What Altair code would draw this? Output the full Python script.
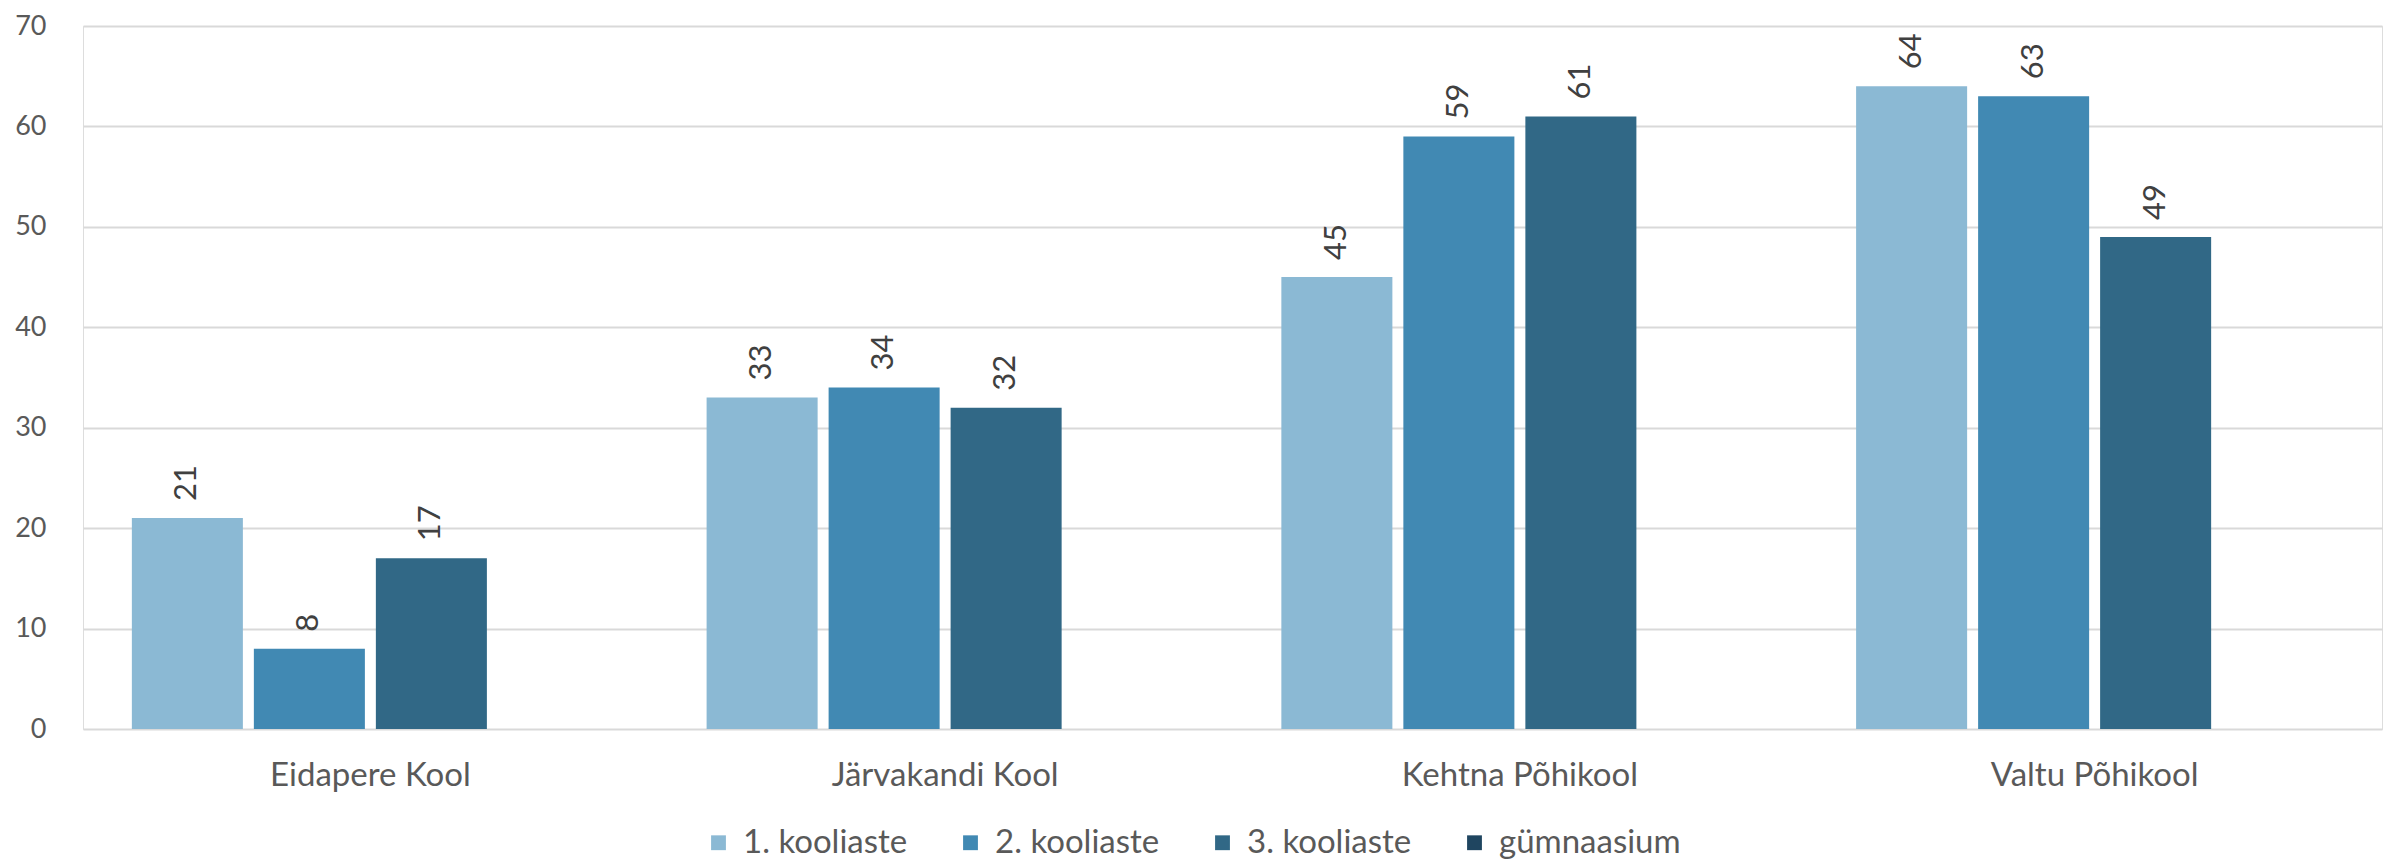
import altair as alt
import pandas as pd

schools = ["Eidapere Kool", "Järvakandi Kool", "Kehtna Põhikool", "Valtu Põhikool"]
series = ["1. kooliaste", "2. kooliaste", "3. kooliaste", "gümnaasium"]
s1 = [21, 33, 45, 64]
s2 = [8, 34, 59, 63]
s3 = [17, 32, 61, 49]
colors = ["#8BB9D4", "#4189B3", "#316886", "#1F4560"]
y_ticks = [0, 10, 20, 30, 40, 50, 60, 70]

rows = []
for vals, name in [(s1, series[0]), (s2, series[1]), (s3, series[2])]:
    for sc, v in zip(schools, vals):
        rows.append({"kool": sc, "aste": name, "v": v})
df = pd.DataFrame(rows)

FONT = "Lato"

x = alt.X("kool:N", sort=schools, title=None,
          scale=alt.Scale(paddingInner=0.17, paddingOuter=0.085),
          axis=alt.Axis(labelAngle=0, domain=False, ticks=False, labelFontSize=33,
                        labelLimit=0, labelColor="#595959", labelFont=FONT, labelPadding=30))
xo = alt.XOffset("aste:N", scale=alt.Scale(domain=series, paddingInner=0.09, paddingOuter=0))
y = alt.Y("v:Q", title=None,
          scale=alt.Scale(domain=[0, 70], nice=False),
          axis=alt.Axis(values=y_ticks, domain=False, ticks=False, labelFontSize=27,
                        labelColor="#595959", labelFont=FONT, labelPadding=37,
                        gridColor="#D9D9D9", gridWidth=2))

bars = alt.Chart(df).mark_bar().encode(
    x=x, xOffset=xo, y=y,
    color=alt.Color("aste:N", scale=alt.Scale(domain=series, range=colors),
                    legend=alt.Legend(title=None, orient="none", direction="horizontal",
                                      legendX=619, legendY=800,
                                      symbolType="square", symbolSize=220,
                                      symbolStrokeWidth=0, symbolOpacity=1,
                                      labelFontSize=33, labelFont=FONT, labelColor="#595959",
                                      labelLimit=0, columnPadding=46, labelOffset=8)),
)

labels = alt.Chart(df).mark_text(angle=270, align="left", baseline="middle", dx=17,
                                 fontSize=31, font=FONT, color="#404040").encode(
    x=alt.X("kool:N", sort=schools), xOffset=xo, y=alt.Y("v:Q"), text=alt.Text("v:Q")
)

chart = (bars + labels).properties(
    width=2299, height=703,
    autosize=alt.AutoSizeParams(type="none"),
    padding={"left": 75, "top": 18, "right": 5, "bottom": 130},
).configure_view(stroke=None).configure(background="white")

chart.save("out.html", embed_options={"renderer": "svg", "actions": False})
